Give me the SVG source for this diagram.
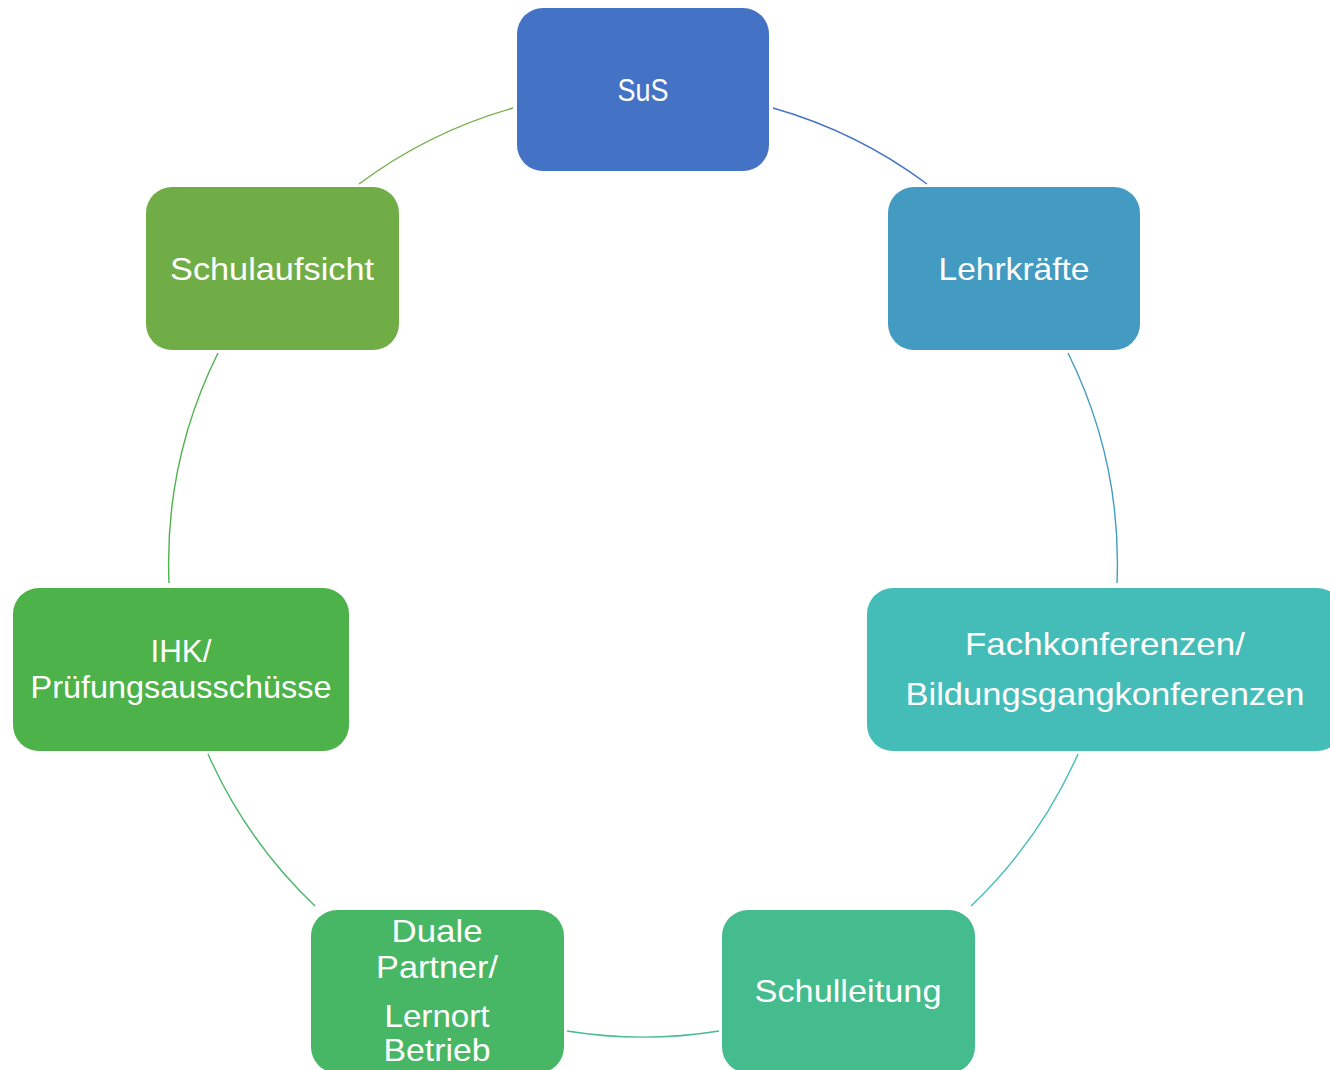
<svg xmlns="http://www.w3.org/2000/svg" width="1330" height="1070" viewBox="0 0 1330 1070">
<style>
.lbl{font-family:"Liberation Sans",Arial,sans-serif;font-size:32px;fill:#ffffff;text-anchor:middle}
.arc{fill:none;stroke-width:1.4}
</style>
<rect width="1330" height="1070" fill="#ffffff"/>
<g id="connectors">
<path class="arc" stroke="#4472C4" d="M773,108 A474,474 0 0 1 927,184"/>
<path class="arc" stroke="#439BC1" d="M1068,353 A474,474 0 0 1 1117,583"/>
<path class="arc" stroke="#44BDB9" d="M1078,754 A474,474 0 0 1 971,906"/>
<path class="arc" stroke="#45BC8E" d="M719,1031 A474,474 0 0 1 567,1031"/>
<path class="arc" stroke="#47B766" d="M315,906 A474,474 0 0 1 208,754"/>
<path class="arc" stroke="#4DB24A" d="M169,583 A474,474 0 0 1 218,353"/>
<path class="arc" stroke="#71AD47" d="M359,184 A474,474 0 0 1 513,108"/>
</g>
<g id="sus">
<rect x="517" y="8" width="252" height="163" rx="26" fill="#4472C4"/>
<text class="lbl" x="643" y="101" textLength="51" lengthAdjust="spacingAndGlyphs">SuS</text>
</g>
<g id="lehrkraefte">
<rect x="888" y="187" width="252" height="163" rx="26" fill="#439BC1"/>
<text class="lbl" x="1014" y="280" textLength="151" lengthAdjust="spacingAndGlyphs">Lehrkräfte</text>
</g>
<g id="fachkonferenzen">
<rect x="867" y="588" width="476" height="163" rx="26" fill="#44BDB9"/>
<text class="lbl" x="1105" y="655" textLength="280" lengthAdjust="spacingAndGlyphs">Fachkonferenzen/</text>
<text class="lbl" x="1105" y="705" textLength="399" lengthAdjust="spacingAndGlyphs">Bildungsgangkonferenzen</text>
</g>
<g id="schulleitung">
<rect x="722" y="910" width="253" height="163" rx="26" fill="#45BC8E"/>
<text class="lbl" x="848" y="1002" textLength="187" lengthAdjust="spacingAndGlyphs">Schulleitung</text>
</g>
<g id="duale">
<rect x="311" y="910" width="253" height="163" rx="26" fill="#47B766"/>
<text class="lbl" x="437" y="942" textLength="91" lengthAdjust="spacingAndGlyphs">Duale</text>
<text class="lbl" x="437" y="978" textLength="122" lengthAdjust="spacingAndGlyphs">Partner/</text>
<text class="lbl" x="437" y="1027" textLength="105" lengthAdjust="spacingAndGlyphs">Lernort</text>
<text class="lbl" x="437" y="1061" textLength="107" lengthAdjust="spacingAndGlyphs">Betrieb</text>
</g>
<g id="ihk">
<rect x="13" y="588" width="336" height="163" rx="26" fill="#4DB24A"/>
<text class="lbl" x="181" y="662" textLength="61" lengthAdjust="spacingAndGlyphs">IHK/</text>
<text class="lbl" x="181" y="698" textLength="301" lengthAdjust="spacingAndGlyphs">Prüfungsausschüsse</text>
</g>
<g id="schulaufsicht">
<rect x="146" y="187" width="253" height="163" rx="26" fill="#71AD47"/>
<text class="lbl" x="272" y="280" textLength="204" lengthAdjust="spacingAndGlyphs">Schulaufsicht</text>
</g>
</svg>
